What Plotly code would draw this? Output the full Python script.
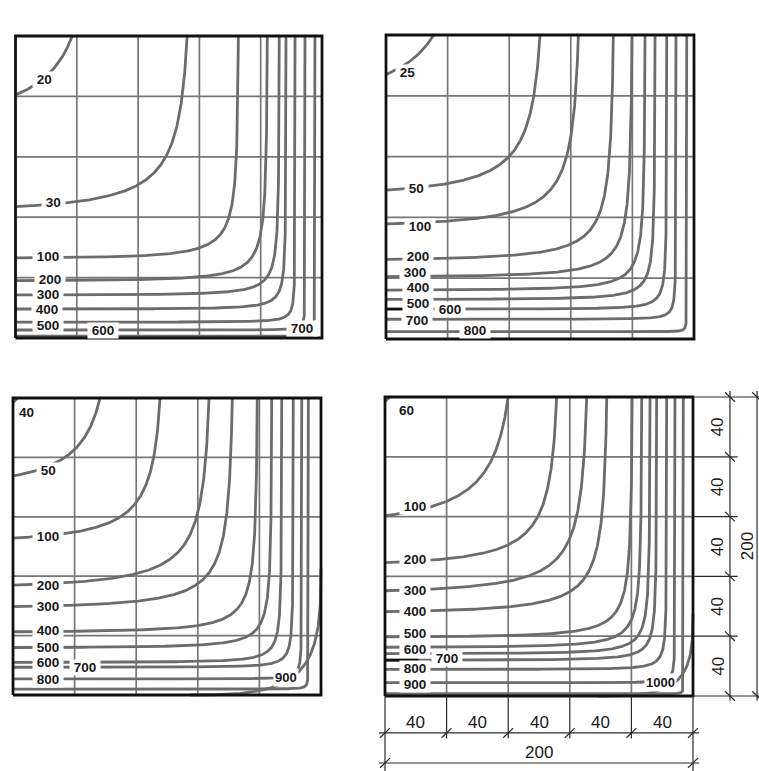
import numpy as np
import plotly.graph_objects as go

W, H = 759, 771
SIDE = 200
GRID = [0, 40, 80, 120, 160, 200]
TITLES = ["30 хв", "60 хв", "90 хв", "120 хв"]

# ---- isotherm data (None = unlabeled line)
#  LEFT: height (mm) where the isotherm meets the left edge
#  TOP : distance (mm) from the right edge where it meets the top edge
#  SHARP: corner sharpness of the curve
P1_LEVELS = [20, 30, 100, 200, 300, 400, 500, 600, 700]
P1_LEFT = [161, 87, 53, 38, 28.5, 19.2, 10.5, 5.3, 1.2]
P1_TOP = [163, 88, 54.6, 35.7, 27.9, 23.5, 17.6, 11.1, 4.6]
P1_SHARP = [3.5, 2.6, 3.0, 2.3, 2.3, 2.3, 2.3, 2.3, 2.3]
P1_LAB_X = [19, 25, 21, 22.5, 21, 20.5, 21, 57, 187]
P1_LAB_Y = [171, 90, 54, 39, 28.8, 18.6, 8.0, 5.3, 6.6]

P2_LEVELS = [25, 50, 100, 200, 300, 400, 500, 600, 700, 800]
P2_LEFT = [174, 98, 75.7, 52.4, 41, 32.2, 26.1, 19.7, 13, 4.8]
P2_TOP = [169, 100, 75.1, 52.4, 40.3, 31.8, 25.3, 17.7, 11.7, 4.7]
P2_SHARP = [3.5, 3.0, 2.6, 2.3, 2.2, 2.2, 2.2, 2.2, 2.2, 2.2]
P2_LAB_X = [14, 20, 22, 21, 19, 21, 21, 41.6, 20, 57.8]
P2_LAB_Y = [175, 98.7, 74.3, 54.6, 43.5, 33.6, 23.5, 19.7, 12.2, 5.9]

P3_LEVELS = [40, 50, 100, 200, 300, 400, 500, 600, 700, 800, None]
P3_LEFT = [197, 147.5, 105.7, 74, 59.5, 42.6, 32, 22, 18.7, 10.8, 4]
P3_TOP = [197, 143.5, 104.5, 72.7, 57.6, 41.4, 32, 25.5, 18, 12.5, 8.2]
P3_SHARP = [3.5, 4.0, 3.5, 2.4, 2.3, 2.3, 2.3, 2.3, 2.3, 2.3, 2.3]
P3_LAB_X = [9, 23, 23, 23, 23, 23, 23, 23, 47, 23, 0]
P3_LAB_Y = [190, 151, 106.6, 74, 59.5, 43.6, 32.3, 21.8, 18.7, 10.6, 0]

P4_LEVELS = [60, 100, 200, 300, 400, 500, 600, None, 700, 800, 900, None]
P4_LEFT = [197, 120.6, 89.2, 70.4, 56.4, 39.5, 32.6, 28.3, 24, 17.8, 8.9, 1.5]
P4_TOP = [197, 120, 88.5, 69, 56, 39.5, 33.3, 27.9, 23.6, 17.1, 11.7, 6.3]
P4_SHARP = [3.5, 3.0, 3.0, 2.4, 2.3, 2.3, 2.3, 2.3, 2.3, 2.3, 2.3, 2.3]
P4_LAB_X = [14, 19.5, 19.5, 19.5, 19.5, 19.5, 19.5, 0, 40, 19.5, 19.5, 0]
P4_LAB_Y = [191, 126.6, 91.4, 70.4, 56.4, 41.6, 31.1, 0, 25.2, 18.6, 7.9, 0]

# corner isotherms (meet the bottom edge and the right edge)
CORNER_PANEL = [2, 3]
CORNER_LEVEL = [900, 1000]
CORNER_BOTTOM = [85, 62]
CORNER_RIGHT = [85, 55]
CORNER_LAB_X = [177.5, 178.6]
CORNER_LAB_Y = [11.9, 8.7]

# dark leader strokes (panel index, level, x end in mm)
DARK_LEADS = [(1, 600, 28.6), (3, 700, 24)]

DIM_PARTS = [40, 40, 40, 40, 40]
DIM_TOTAL = 200

PANELS = [
    dict(levels=P1_LEVELS, left=P1_LEFT, top=P1_TOP, p=P1_SHARP, lx=P1_LAB_X, ly=P1_LAB_Y),
    dict(levels=P2_LEVELS, left=P2_LEFT, top=P2_TOP, p=P2_SHARP, lx=P2_LAB_X, ly=P2_LAB_Y),
    dict(levels=P3_LEVELS, left=P3_LEFT, top=P3_TOP, p=P3_SHARP, lx=P3_LAB_X, ly=P3_LAB_Y),
    dict(levels=P4_LEVELS, left=P4_LEFT, top=P4_TOP, p=P4_SHARP, lx=P4_LAB_X, ly=P4_LAB_Y),
]
# pixel boxes of the square frames (left, right, top, bottom)
BOXES = [(15.5, 322, 36, 338), (386, 694, 35, 339), (13, 321, 398, 695), (385, 693, 397, 696)]

CURVE_COL = "#6c6c6c"
GRID_COL = "#777777"
FONT = "Liberation Sans, Arial, sans-serif"
LAB_SIZE = 13.5
NB = "\u00a0"


def iso_curve(vL, uT, p, n=300):
    S = SIDE
    m = np.array([[vL ** -p, S ** -p], [S ** -p, uT ** -p]])
    A, B = np.linalg.solve(m, [1.0, 1.0])
    a, b = A ** (1 / p), B ** (1 / p)
    s0 = (a / S) ** p
    s1 = 1 - (b / S) ** p
    w = (1 - np.cos(np.linspace(0, np.pi, n))) / 2
    s = s0 + (s1 - s0) * w
    v = a * s ** (-1 / p)
    u = b * (1 - s) ** (-1 / p)
    return S - u, v


def corner_curve(U, V, q=0.4, n=240):
    t = np.linspace(0, 1, n)
    u = U * t ** (1 / q)
    v = V * (1 - t) ** (1 / q)
    return SIDE - u, v


fig = go.Figure()
PAD = 4

for i, (pan, box) in enumerate(zip(PANELS, BOXES)):
    L, R, T, B = box
    sx = (R - L) / SIDE
    sy = (B - T) / SIDE
    xa = "xaxis" if i == 0 else f"xaxis{i+1}"
    ya = "yaxis" if i == 0 else f"yaxis{i+1}"
    xr = "x" if i == 0 else f"x{i+1}"
    yr = "y" if i == 0 else f"y{i+1}"
    if i == 3:
        xdom = [(L - PAD * sx) / W, 1.0]
        ydom = [0.0, (H - (T - PAD * sy)) / H]
        xrange = [-PAD, (W - L) / sx]
        yrange = [-(H - B) / sy, SIDE + PAD]
    else:
        xdom = [(L - PAD * sx) / W, (R + PAD * sx) / W]
        ydom = [(H - (B + PAD * sy)) / H, (H - (T - PAD * sy)) / H]
        xrange = [-PAD, SIDE + PAD]
        yrange = [-PAD, SIDE + PAD]
    fig.update_layout({
        xa: dict(domain=xdom, range=xrange, visible=False, fixedrange=True, anchor=yr),
        ya: dict(domain=ydom, range=yrange, visible=False, fixedrange=True, anchor=xr),
    })

    # grid
    gx, gy = [], []
    for g in GRID[1:-1]:
        gx += [g, g, None, 0, SIDE, None]
        gy += [0, SIDE, None, g, g, None]
    fig.add_trace(go.Scatter(x=gx, y=gy, mode="lines", line=dict(color=GRID_COL, width=1.7),
                             xaxis=xr, yaxis=yr, hoverinfo="skip", showlegend=False))
    # isotherms
    for lev, vL, uT, p in zip(pan["levels"], pan["left"], pan["top"], pan["p"]):
        cx, cy = iso_curve(vL, uT, p)
        fig.add_trace(go.Scatter(x=cx, y=cy, mode="lines", line=dict(color=CURVE_COL, width=2.8),
                                 xaxis=xr, yaxis=yr, hoverinfo="skip", showlegend=False))
        for (pi, plev, xend) in DARK_LEADS:
            if pi == i and plev == lev:
                msk = cx <= xend
                fig.add_trace(go.Scatter(x=cx[msk], y=cy[msk], mode="lines",
                                         line=dict(color="#111111", width=2.6),
                                         xaxis=xr, yaxis=yr, hoverinfo="skip", showlegend=False))
    for cp, clev, cu, cv, clx, cly in zip(CORNER_PANEL, CORNER_LEVEL, CORNER_BOTTOM, CORNER_RIGHT,
                                          CORNER_LAB_X, CORNER_LAB_Y):
        if cp != i:
            continue
        cx, cy = corner_curve(cu, cv)
        fig.add_trace(go.Scatter(x=cx, y=cy, mode="lines", line=dict(color=CURVE_COL, width=2.8),
                                 xaxis=xr, yaxis=yr, hoverinfo="skip", showlegend=False))
        fig.add_annotation(x=clx, y=cly, xref=xr, yref=yr, text=f"<b>{clev}</b>", showarrow=False,
                           font=dict(family=FONT, size=LAB_SIZE - 0.5, color="#1a1a1a"),
                           bgcolor="white", borderpad=1)
    # frame
    fig.add_trace(go.Scatter(x=[0, SIDE, SIDE, 0, 0], y=[0, 0, SIDE, SIDE, 0], mode="lines",
                             line=dict(color="#111111", width=2.8), xaxis=xr, yaxis=yr,
                             hoverinfo="skip", showlegend=False))
    # labels
    for lev, x, y in zip(pan["levels"], pan["lx"], pan["ly"]):
        if lev is None:
            continue
        txt = f"<b>{lev}</b>" if y > 180 else f"<b>{NB}{lev}{NB}</b>"
        fig.add_annotation(x=x, y=y, xref=xr, yref=yr, text=txt, showarrow=False,
                           font=dict(family=FONT, size=LAB_SIZE, color="#1a1a1a"), bgcolor="white",
                           borderpad=0)
    # title
    fig.add_annotation(x=SIDE / 2, y=SIDE + 18 / sy, xref=xr, yref=yr, text=f"<b>{TITLES[i]}</b>",
                       showarrow=False, font=dict(family=FONT, size=16, color="#1a1a1a"))

    if i == 3:
        # dimension lines on the right and bottom
        dx, dy = [], []
        cum = np.concatenate([[0], np.cumsum(DIM_PARTS)])
        xdim, xdim2 = 224, 241.6
        yd1, yd2 = -24.7, -44.8
        tk = 3.2
        for c in cum:
            xe = 244 if c in (0, SIDE) else 229
            dx += [SIDE, xe, None]
            dy += [c, c, None]
        dx += [xdim, xdim, None, xdim2, xdim2, None]
        dy += [-3, SIDE + 4, None, -3, SIDE + 4, None]
        for c in cum:
            dx += [xdim - tk, xdim + tk, None]
            dy += [c + tk, c - tk, None]
        for c in (0, SIDE):
            dx += [xdim2 - tk, xdim2 + tk, None]
            dy += [c + tk, c - tk, None]
        for c in cum:
            ye = -52 if c in (0, SIDE) else -28.5
            dx += [c, c, None]
            dy += [0, ye, None]
        dx += [-4, SIDE + 4, None, -4, SIDE + 4, None]
        dy += [yd1, yd1, None, yd2, yd2, None]
        for c in cum:
            dx += [c - tk, c + tk, None]
            dy += [yd1 - tk, yd1 + tk, None]
        for c in (0, SIDE):
            dx += [c - tk, c + tk, None]
            dy += [yd2 - tk, yd2 + tk, None]
        fig.add_trace(go.Scatter(x=dx, y=dy, mode="lines", line=dict(color="#2a2a2a", width=1.2),
                                 xaxis=xr, yaxis=yr, hoverinfo="skip", showlegend=False))
        for k in range(len(DIM_PARTS)):
            mid = (cum[k] + cum[k + 1]) / 2
            fig.add_annotation(x=216, y=mid, xref=xr, yref=yr, text=str(DIM_PARTS[k]), textangle=-90,
                               showarrow=False, font=dict(family=FONT, size=17, color="#1a1a1a"))
            fig.add_annotation(x=mid, y=-17.5, xref=xr, yref=yr, text=str(DIM_PARTS[k]),
                               showarrow=False, font=dict(family=FONT, size=17, color="#1a1a1a"))
        fig.add_annotation(x=235.5, y=SIDE / 2, xref=xr, yref=yr, text=str(DIM_TOTAL), textangle=-90,
                           showarrow=False, font=dict(family=FONT, size=17, color="#1a1a1a"))
        fig.add_annotation(x=SIDE / 2, y=-37.5, xref=xr, yref=yr, text=str(DIM_TOTAL),
                           showarrow=False, font=dict(family=FONT, size=17, color="#1a1a1a"))

fig.update_layout(width=W, height=H, margin=dict(l=0, r=0, t=0, b=0), paper_bgcolor="white",
                  plot_bgcolor="rgba(0,0,0,0)", showlegend=False)
fig.write_html("out.html")
